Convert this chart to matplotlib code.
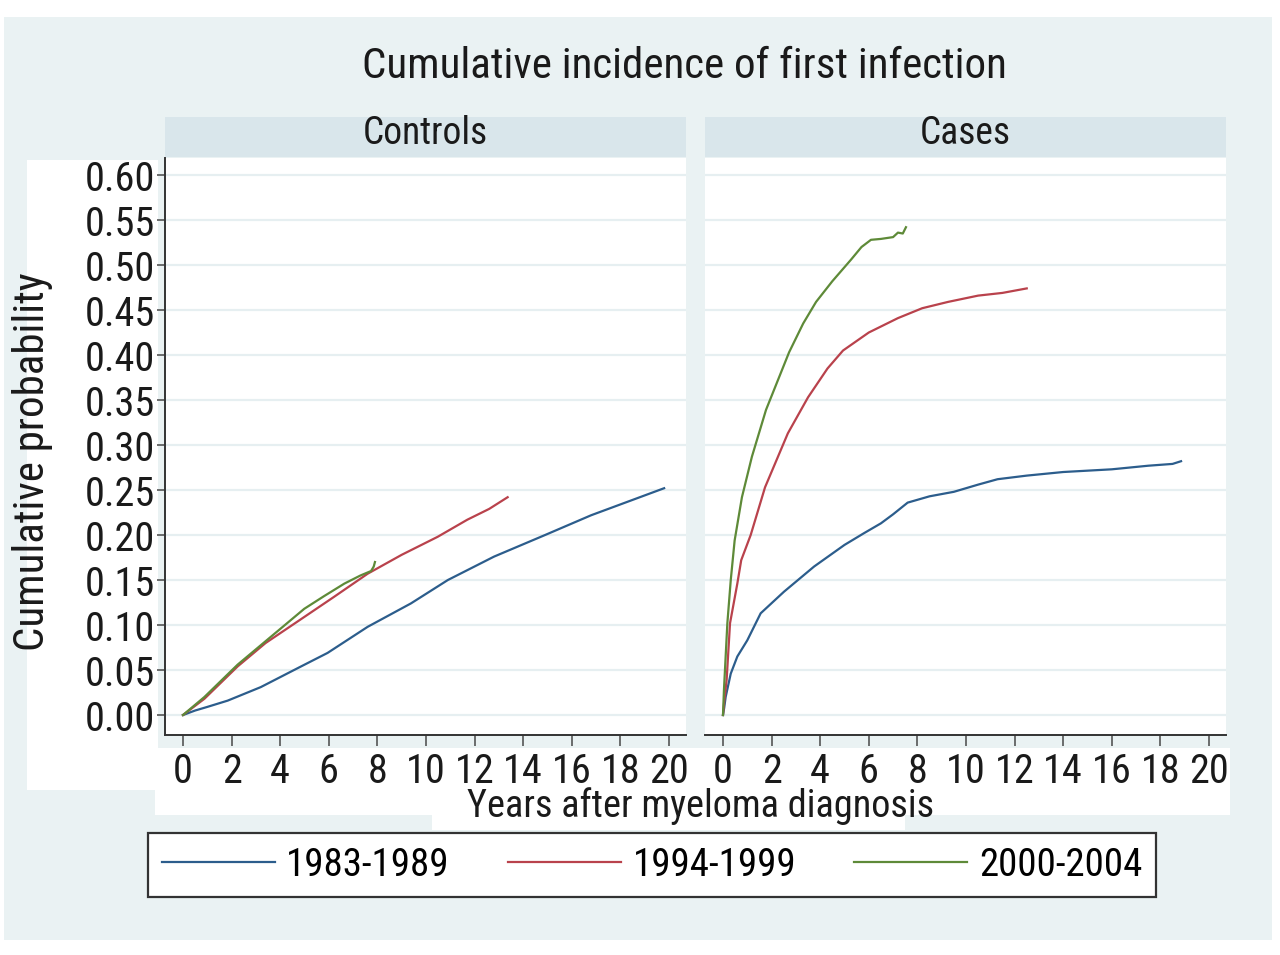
import matplotlib
matplotlib.use("Agg")
import matplotlib.pyplot as plt
from matplotlib import font_manager
from matplotlib.patches import Rectangle
from matplotlib.lines import Line2D

# ---------------- data ----------------
panels = ["Controls", "Cases"]
series_labels = ["1983-1989", "1994-1999", "2000-2004"]

# Controls
ctrl_8389_x = [0, 0.5, 1.0, 1.84, 3.2, 4.86, 5.95, 7.6, 9.38, 10.9, 12.8, 14.9, 16.8, 18.3, 19.4, 19.8]
ctrl_8389_y = [0, 0.005, 0.009, 0.016, 0.031, 0.054, 0.069, 0.098, 0.124, 0.150, 0.176, 0.200, 0.222, 0.237, 0.248, 0.252]
ctrl_9499_x = [0, 0.88, 2.25, 3.4, 4.72, 6.2, 7.6, 9.0, 10.48, 11.7, 12.6, 13.36]
ctrl_9499_y = [0, 0.018, 0.054, 0.080, 0.104, 0.131, 0.157, 0.178, 0.198, 0.217, 0.229, 0.242]
ctrl_0004_x = [0, 0.88, 2.25, 3.62, 4.99, 5.8, 6.64, 7.3, 7.74, 7.85, 7.9]
ctrl_0004_y = [0, 0.020, 0.056, 0.087, 0.118, 0.132, 0.146, 0.155, 0.160, 0.165, 0.170]

# Cases
case_8389_x = [0, 0.05, 0.11, 0.32, 0.59, 1.0, 1.55, 2.51, 3.75, 5.0, 5.8, 6.5, 7.0, 7.6, 8.5, 9.5, 10.5, 11.3, 12.5, 14.0, 16.0, 17.5, 18.5, 18.85]
case_8389_y = [0, 0.008, 0.020, 0.046, 0.065, 0.083, 0.113, 0.137, 0.165, 0.189, 0.202, 0.213, 0.223, 0.236, 0.243, 0.248, 0.256, 0.262, 0.266, 0.270, 0.273, 0.277, 0.279, 0.282]
case_9499_x = [0, 0.05, 0.15, 0.29, 0.59, 0.75, 1.14, 1.73, 2.67, 3.5, 4.3, 4.94, 6.0, 7.2, 8.2, 9.26, 10.5, 11.5, 12.5]
case_9499_y = [0, 0.015, 0.039, 0.102, 0.146, 0.172, 0.200, 0.253, 0.313, 0.353, 0.385, 0.405, 0.425, 0.441, 0.452, 0.459, 0.466, 0.469, 0.474]
case_0004_x = [0, 0.04, 0.18, 0.32, 0.48, 0.78, 1.19, 1.77, 2.72, 3.3, 3.83, 4.5, 5.27, 5.7, 6.09, 6.5, 7.0, 7.2, 7.4, 7.53]
case_0004_y = [0, 0.028, 0.102, 0.150, 0.194, 0.242, 0.287, 0.339, 0.403, 0.435, 0.459, 0.482, 0.506, 0.520, 0.528, 0.529, 0.531, 0.536, 0.535, 0.542]

data = {
    "Controls": [(ctrl_8389_x, ctrl_8389_y), (ctrl_9499_x, ctrl_9499_y), (ctrl_0004_x, ctrl_0004_y)],
    "Cases": [(case_8389_x, case_8389_y), (case_9499_x, case_9499_y), (case_0004_x, case_0004_y)],
}

y_ticks = [0.00, 0.05, 0.10, 0.15, 0.20, 0.25, 0.30, 0.35, 0.40, 0.45, 0.50, 0.55, 0.60]
x_ticks = [0, 2, 4, 6, 8, 10, 12, 14, 16, 18, 20]

title = "Cumulative incidence of first infection"
ylabel = "Cumulative probability"
xlabel = "Years after myeloma diagnosis"

# ---------------- style ----------------
available = {f.name for f in font_manager.fontManager.ttflist}
font = "DejaVu Sans"
for cand in ["Liberation Sans Narrow", "Arial Narrow", "Roboto Condensed", "Open Sans Condensed", "Liberation Sans"]:
    if cand in available:
        font = cand
        break
plt.rcParams["font.family"] = [font, "DejaVu Sans"]

colors = ["#2c5d8c", "#b9424c", "#5e8a38"]
bg = "#eaf2f3"
strip_c = "#d9e6eb"
grid_c = "#e6eff1"
ink = "#1a1a1a"

W, H = 1280, 955
fig = plt.figure(figsize=(12.8, 9.55), dpi=100)
fig.patch.set_facecolor("white")

def fx(px):
    return px / W

def fy(py):
    return 1 - py / H

# outer graph region
fig.patches.append(Rectangle((fx(4), fy(940)), fx(1272) - fx(4), fy(17) - fy(940),
                             transform=fig.transFigure, facecolor=bg, edgecolor="none", zorder=-3))
# white patches (artifacts of the reference)
for (x0, y0, x1, y1) in [(27, 160, 158, 790), (155, 748, 1230, 815), (432, 810, 905, 830)]:
    fig.patches.append(Rectangle((fx(x0), fy(y1)), fx(x1) - fx(x0), fy(y0) - fy(y1),
                                 transform=fig.transFigure, facecolor="white", edgecolor="none", zorder=-2))

ax_left_px = [165, 705]
ax_w_px = 521
ax_top, ax_bot = 158, 735
xlim = (-0.74, 20.7)
ylim = (-0.0222, 0.6189)

FS = 29
axes = []
for i, name in enumerate(panels):
    x0 = ax_left_px[i]
    ax = fig.add_axes([fx(x0), fy(ax_bot), ax_w_px / W, (ax_bot - ax_top) / H])
    ax.set_zorder(2)
    ax.set_facecolor("white")
    ax.set_xlim(*xlim)
    ax.set_ylim(*ylim)
    ax.set_yticks(y_ticks)
    ax.set_xticks(x_ticks)
    ax.grid(axis="y", color=grid_c, linewidth=1.6, zorder=0)
    ax.set_axisbelow(True)
    for s in ["top", "right"]:
        ax.spines[s].set_visible(False)
    ax.spines["bottom"].set_color("#333333")
    ax.spines["bottom"].set_linewidth(1.4)
    ax.spines["left"].set_color("#333333")
    ax.spines["left"].set_linewidth(1.4)
    ax.tick_params(axis="x", length=8, width=1.2, color="#555555", pad=4, labelsize=FS, labelcolor=ink)
    if i == 0:
        ax.tick_params(axis="y", length=6, width=1.2, color="#555555", pad=1, labelsize=FS, labelcolor=ink)
        ax.set_yticklabels([f"{v:.2f}" for v in y_ticks])
    else:
        ax.spines["left"].set_visible(False)
        ax.tick_params(axis="y", left=False, labelleft=False)
    ax.set_xticklabels([str(v) for v in x_ticks])
    for (xs, ys), c, lab in zip(data[name], colors, series_labels):
        ax.plot(xs, ys, color=c, linewidth=1.6, label=lab, zorder=3)
    # strip
    fig.patches.append(Rectangle((fx(x0), fy(157)), ax_w_px / W, 40 / H,
                                 transform=fig.transFigure, facecolor=strip_c, edgecolor="none", zorder=-1))
    fig.text(fx(x0 + ax_w_px / 2), fy(134), name, ha="center", va="center", fontsize=27, color=ink)
    axes.append(ax)

fig.text(fx(684), fy(66), title, ha="center", va="center", fontsize=31, color=ink)
fig.text(fx(33), fy(462), ylabel, ha="center", va="center", rotation=90, fontsize=31, color=ink)
fig.text(fx(701), fy(806), xlabel, ha="center", va="center", fontsize=27.5, color=ink)

handles = [Line2D([], [], color=c, linewidth=1.6) for c in colors]
leg = fig.legend(handles, series_labels, loc="center", bbox_to_anchor=(fx(652), fy(865)),
                 ncol=3, fontsize=28, frameon=True, fancybox=False, handlelength=2.9,
                 handletextpad=0.3, columnspacing=1.5, borderpad=0.35)
leg.get_frame().set_edgecolor("#333333")
leg.get_frame().set_linewidth(1.6)
leg.get_frame().set_facecolor("white")
leg.get_frame().set_alpha(1)

fig.savefig("out.png", dpi=100, facecolor=fig.get_facecolor())
